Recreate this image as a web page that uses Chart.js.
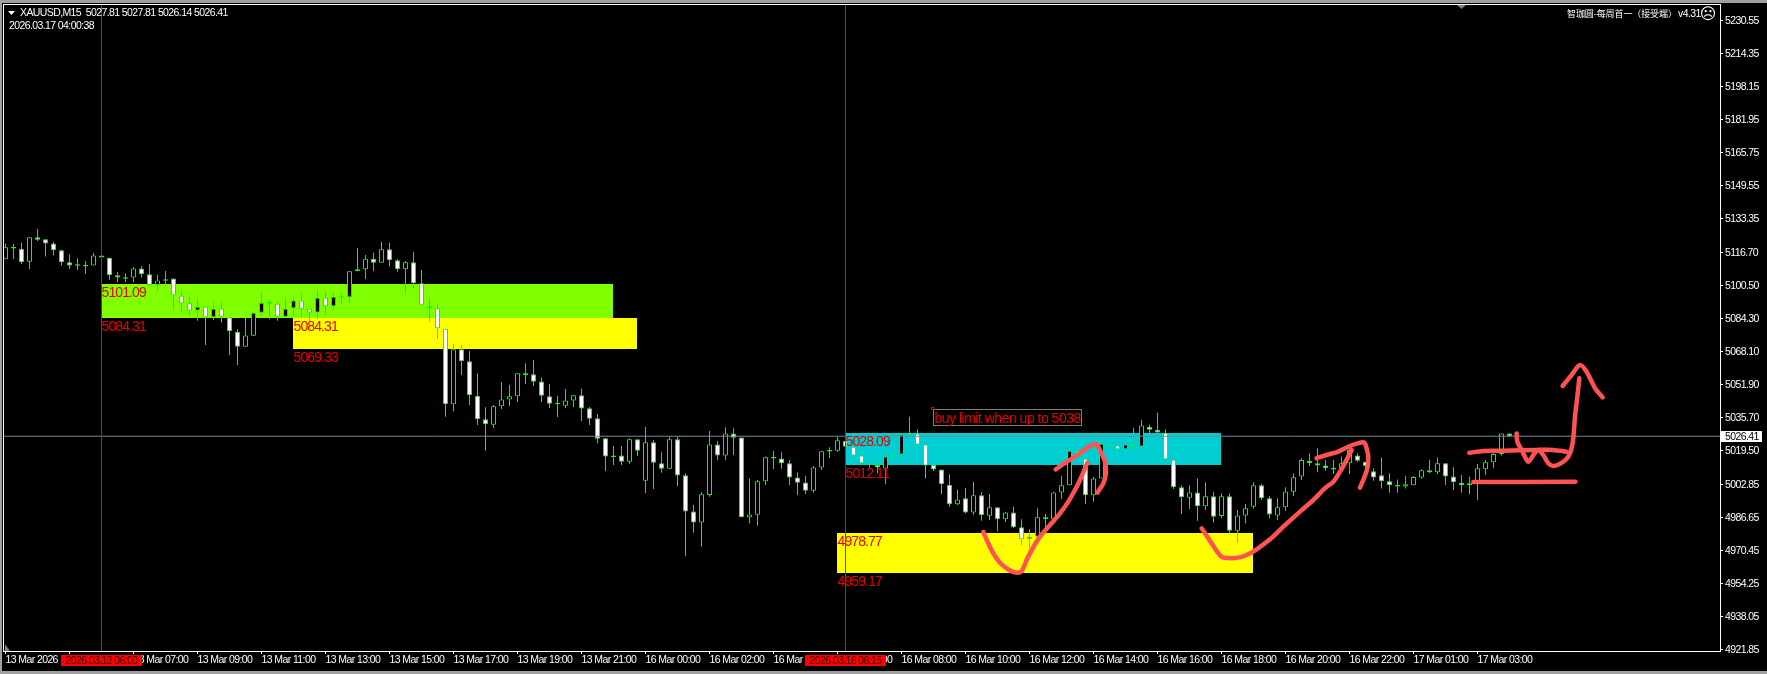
<!DOCTYPE html>
<html>
<head>
<meta charset="utf-8">
<title>XAUUSD,M15</title>
<script src="https://cdn.jsdelivr.net/npm/chart.js@4/dist/chart.umd.min.js"></script>
<style>
  html, body { margin: 0; padding: 0; background: #000; overflow: hidden; }
  canvas { display: block; }
</style>
</head>
<body>
<canvas id="grafico" width="1767" height="674"></canvas>
<script>
const valores_open = [
  5113.3, 5119.4, 5118.5, 5112.1, 5124.1, 5123.1, 5121.1, 5117.7, 5111.8, 5110.9,
  5110.6, 5110.3, 5115.2, 5114.1, 5105.4, 5104.5, 5104.4, 5108.8, 5105.9, 5100.7,
  5103.5, 5103.8, 5095.4, 5091.7, 5088.2, 5090.0, 5084.8, 5089.0, 5084.8, 5077.7,
  5070.4, 5075.8, 5087.1, 5092.3, 5091.5, 5085.1, 5089.2, 5093.0, 5089.0, 5087.2,
  5094.4, 5090.2, 5095.2, 5094.6, 5108.4, 5108.4, 5113.6, 5111.6, 5118.2, 5112.8,
  5108.4, 5111.8, 5101.5, 5090.2, 5089.2, 5079.2, 5042.1, 5069.1, 5063.2, 5046.3,
  5034.7, 5032.1, 5041.1, 5044.5, 5046.0, 5057.3, 5056.8, 5053.3, 5046.0, 5042.9,
  5041.4, 5043.9, 5046.5, 5040.1, 5035.2, 5025.4, 5017.0, 5017.0, 5013.9, 5024.9,
  5004.6, 5023.4, 5013.1, 5010.5, 5024.9, 5007.2, 4989.4, 4984.0, 4997.5, 5022.4,
  5016.9, 5027.8, 5025.8, 4986.6, 4987.9, 5004.3, 5016.3, 5015.5, 5013.1, 5006.2,
  5003.7, 4999.7, 5011.1, 5019.7, 5019.3, 5024.2, 5021.3, 5016.9, 5013.2, 5012.3,
  5010.6, 5017.5, 5017.5, 5027.9, 5027.7, 5022.3, 5012.3, 5010.1, 5002.6, 4993.0,
  4995.9, 4989.0, 4997.4, 4987.4, 4991.5, 4985.6, 4989.0, 4981.7, 4975.9, 4977.1,
  4986.6, 4985.6, 4998.8, 5002.3, 5019.3, 5015.4, 4997.4, 5005.6, 5022.7, 5021.8,
  5020.0, 5022.3, 5021.4, 5031.1, 5029.6, 5028.1, 5014.9, 5001.3, 4996.2, 4998.8,
  4992.0, 4996.9, 4987.2, 4996.9, 4980.0, 4987.5, 4991.8, 5002.3, 4995.9, 4987.5,
  4991.5, 4999.2, 5006.6, 5014.4, 5013.1, 5012.0, 5010.9, 5010.5, 5013.1, 5016.9,
  5013.9, 5009.2, 5007.2, 5004.3, 5002.5, 5001.7, 5002.3, 5006.1, 5009.7, 5008.7,
  5013.1, 5006.7, 5003.6, 5002.3, 5002.9, 5010.2, 5013.6, 5017.7, 5027.81,
];
const valores_close = [
  5119.2, 5118.6, 5111.8, 5124.1, 5122.9, 5121.1, 5117.7, 5111.8, 5110.3, 5110.1,
  5109.8, 5115.2, 5114.2, 5105.4, 5104.3, 5103.7, 5108.8, 5105.9, 5100.7, 5102.9,
  5102.7, 5095.6, 5091.7, 5088.2, 5090.0, 5084.8, 5089.0, 5085.1, 5077.9, 5070.4,
  5075.9, 5087.1, 5092.0, 5091.5, 5085.1, 5089.0, 5093.0, 5089.0, 5087.2, 5094.4,
  5090.2, 5094.9, 5094.4, 5107.4, 5107.4, 5113.6, 5111.6, 5118.2, 5112.8, 5108.4,
  5111.8, 5101.5, 5090.7, 5089.2, 5079.4, 5042.1, 5069.1, 5063.2, 5046.5, 5034.7,
  5032.3, 5041.1, 5044.5, 5046.0, 5057.3, 5056.3, 5053.2, 5046.3, 5042.4, 5042.1,
  5044.0, 5046.5, 5040.0, 5035.0, 5025.2, 5016.4, 5016.2, 5013.9, 5024.9, 5019.3,
  5023.4, 5013.4, 5010.5, 5024.9, 5007.1, 4989.4, 4984.0, 4997.9, 5022.4, 5016.9,
  5027.8, 5025.7, 4986.6, 4988.0, 5004.3, 5016.1, 5015.5, 5013.1, 5006.1, 5003.6,
  4999.7, 5011.1, 5019.0, 5018.9, 5024.4, 5021.3, 5017.0, 5013.1, 5012.4, 5011.1,
  5016.5, 5016.5, 5027.3, 5027.1, 5022.3, 5012.1, 5010.1, 5002.8, 4993.0, 4995.4,
  4989.0, 4997.4, 4987.7, 4991.5, 4985.6, 4989.0, 4981.7, 4975.8, 4977.1, 4986.6,
  4985.6, 4998.8, 5002.3, 5019.3, 5018.0, 4997.4, 5005.6, 5022.7, 5022.1, 5020.0,
  5022.3, 5021.4, 5031.7, 5029.6, 5028.3, 5015.1, 5001.3, 4996.4, 4998.8, 4992.0,
  4996.9, 4986.9, 4996.9, 4980.0, 4987.5, 4991.0, 5002.3, 4995.9, 4988.0, 4991.5,
  4999.3, 5006.3, 5014.8, 5013.1, 5012.1, 5010.7, 5010.1, 5013.1, 5019.7, 5014.4,
  5011.8, 5006.2, 5004.3, 5002.3, 5001.7, 5002.8, 5006.4, 5009.7, 5008.7, 5013.1,
  5006.7, 5003.8, 5002.3, 5003.3, 5010.7, 5013.6, 5017.7, 5027.8, 5026.41,
];
const valores_high = [
  5121.1, 5120.8, 5121.4, 5124.1, 5128.2, 5123.1, 5121.8, 5118.0, 5115.7, 5113.8,
  5112.4, 5116.4, 5115.2, 5114.1, 5107.0, 5106.4, 5109.5, 5110.0, 5110.8, 5105.6,
  5107.5, 5103.8, 5098.2, 5094.6, 5094.1, 5090.0, 5092.6, 5092.6, 5084.8, 5078.9,
  5084.8, 5087.6, 5097.1, 5093.6, 5092.5, 5094.3, 5094.1, 5096.6, 5089.0, 5098.2,
  5097.7, 5097.1, 5096.6, 5107.4, 5118.8, 5115.4, 5116.5, 5121.8, 5121.4, 5113.3,
  5112.4, 5116.9, 5108.0, 5094.1, 5091.7, 5079.2, 5071.7, 5071.1, 5068.3, 5057.3,
  5040.6, 5041.8, 5052.9, 5051.6, 5057.3, 5062.2, 5063.9, 5055.3, 5052.1, 5046.2,
  5049.6, 5046.5, 5049.9, 5040.8, 5037.3, 5025.4, 5021.6, 5021.6, 5025.4, 5024.9,
  5031.0, 5024.6, 5018.5, 5026.2, 5026.2, 5008.2, 4992.6, 4998.9, 5029.0, 5024.1,
  5030.8, 5030.3, 5025.8, 5005.7, 5004.9, 5016.4, 5019.2, 5018.5, 5014.7, 5008.7,
  5006.9, 5011.8, 5019.0, 5021.0, 5026.2, 5024.2, 5021.3, 5016.9, 5015.9, 5012.3,
  5017.2, 5020.5, 5027.3, 5036.0, 5029.8, 5022.3, 5012.3, 5010.1, 5007.8, 5000.3,
  5001.0, 5003.9, 4999.0, 4998.0, 4991.5, 4989.3, 4991.8, 4985.6, 4980.7, 4991.1,
  4988.2, 4999.2, 5006.9, 5022.1, 5019.3, 5015.4, 5006.5, 5024.5, 5024.1, 5021.8,
  5022.9, 5030.4, 5034.4, 5032.1, 5038.1, 5029.8, 5014.9, 5002.4, 5002.4, 5005.7,
  5003.8, 4999.0, 4998.4, 4998.4, 4990.2, 4993.1, 5003.8, 5002.9, 4997.0, 4995.9,
  5001.3, 5008.2, 5015.6, 5018.0, 5020.5, 5014.7, 5014.7, 5016.4, 5020.5, 5018.0,
  5013.9, 5010.7, 5016.0, 5008.2, 5005.2, 5006.9, 5006.9, 5010.2, 5014.7, 5016.0,
  5013.1, 5011.2, 5007.4, 5006.6, 5012.8, 5014.7, 5018.0, 5027.8, 5027.81,
];
const valores_low = [
  5113.3, 5113.4, 5111.0, 5108.5, 5122.3, 5114.6, 5115.1, 5110.2, 5108.5, 5108.0,
  5106.2, 5110.3, 5114.2, 5103.1, 5102.1, 5102.1, 5102.1, 5104.3, 5100.3, 5097.9,
  5100.5, 5088.4, 5087.6, 5085.4, 5083.1, 5071.2, 5083.5, 5082.2, 5066.3, 5061.4,
  5070.4, 5075.8, 5085.4, 5083.8, 5083.1, 5084.8, 5085.4, 5084.8, 5082.5, 5084.1,
  5085.9, 5088.4, 5091.3, 5092.0, 5107.4, 5103.6, 5107.5, 5111.6, 5109.7, 5107.2,
  5096.6, 5098.7, 5090.7, 5082.6, 5074.2, 5036.0, 5038.5, 5056.5, 5041.8, 5031.9,
  5019.3, 5030.5, 5039.8, 5041.3, 5043.2, 5052.1, 5051.1, 5043.2, 5040.3, 5035.9,
  5040.3, 5040.8, 5033.9, 5031.9, 5022.9, 5009.3, 5012.3, 5012.3, 5012.8, 5016.7,
  4998.5, 5000.5, 5008.5, 5010.5, 5002.0, 4967.6, 4979.0, 4972.2, 4996.7, 5014.7,
  5014.7, 5017.2, 4986.6, 4983.6, 4982.5, 5002.5, 5010.3, 5010.5, 5002.5, 4997.6,
  4998.0, 4998.7, 5009.8, 5015.7, 5018.8, 5021.3, 5014.7, 5013.1, 5011.1, 5008.2,
  5002.9, 5015.9, 5013.1, 5026.7, 5020.9, 5005.6, 5009.3, 4998.0, 4991.8, 4992.6,
  4988.5, 4987.9, 4984.9, 4985.3, 4979.7, 4984.3, 4981.3, 4973.0, 4971.3, 4976.3,
  4979.5, 4984.4, 4995.6, 5002.3, 5015.5, 4993.1, 4994.3, 5005.6, 5018.8, 5012.3,
  5013.9, 5018.0, 5018.0, 5022.9, 5027.8, 5015.1, 5000.5, 4988.2, 4990.7, 4984.9,
  4990.2, 4984.1, 4986.1, 4978.7, 4974.1, 4983.6, 4990.8, 4995.1, 4986.1, 4985.3,
  4989.8, 4997.1, 5004.9, 5011.8, 5008.9, 5009.5, 5007.9, 5009.9, 5007.9, 5013.9,
  5006.6, 5004.6, 5000.8, 4998.7, 4998.7, 5000.7, 5002.3, 5005.6, 5008.4, 5007.9,
  5002.5, 5000.0, 4998.7, 4998.1, 4995.1, 5007.4, 5010.8, 5016.9, 5026.14,
];

const precios_eje = [
  5230.55, 5214.35, 5198.15, 5181.95, 5165.75, 5149.55, 5133.35, 5116.7, 5100.5, 5084.3,
  5068.1, 5051.9, 5035.7, 5019.5, 5002.85, 4986.65, 4970.45, 4954.25, 4938.05, 4921.85,
];
const barras_eje = [
  0, 8, 16, 24, 32, 40, 48, 56, 64, 72, 80, 88, 96,
  104, 112, 120, 128, 136, 144, 152, 160, 168, 176, 184,
];
const etiquetas_eje = [
  "13 Mar 2026", "13 Mar 05:00", "13 Mar 07:00", "13 Mar 09:00", "13 Mar 11:00", "13 Mar 13:00",
  "13 Mar 15:00", "13 Mar 17:00", "13 Mar 19:00", "13 Mar 21:00", "16 Mar 00:00", "16 Mar 02:00",
  "16 Mar 04:00", "16 Mar 06:00", "16 Mar 08:00", "16 Mar 10:00", "16 Mar 12:00", "16 Mar 14:00",
  "16 Mar 16:00", "16 Mar 18:00", "16 Mar 20:00", "16 Mar 22:00", "17 Mar 01:00", "17 Mar 03:00",
];

const precio_actual = 5026.41;
const lineas_verticales = [12, 105];
const etiquetas_verticales = ["2026.03.13 06:00", "2026.03.16 06:15"];

// zonas: barra inicial, barra final, precio alto, precio bajo, color
const zonas = [
  [12, 76, 5101.09, 5084.31, "#7fff00"],
  [36, 79, 5084.31, 5069.33, "#ffff00"],
  [105, 152, 5028.09, 5012.11, "#00ced1"],
  [104, 156, 4978.77, 4959.17, "#ffff00"],
];

// trazos a mano: [barra, precio]
const trazo_a = [[122.23,4979.4],[122.85,4973.8],[123.48,4968.9],[124.31,4964.3],[125.35,4961.0],[126.39,4959.4],[127.02,4960.2],[127.64,4965.6],[128.27,4970.5],[129.31,4977.1],[130.56,4982.8],[131.81,4988.5],[132.85,4994.3],[133.69,5000.0],[134.31,5004.9],[134.94,5010.6],[135.23,5013.4]];
const trazo_b = [[131.27,5010.1],[132.23,5012.8],[133.48,5015.9],[134.73,5019.3],[135.77,5022.1],[136.39,5022.4],[136.89,5018.8],[137.44,5013.9],[137.56,5008.2],[137.23,5003.3],[136.48,4998.7]];
const trazo_c = [[149.52,4981.2],[150.14,4977.6],[150.98,4972.5],[152.02,4967.2],[152.85,4966.6],[154.1,4966.8],[155.14,4968.1],[156.39,4970.9],[158.06,4975.8],[159.73,4982.0],[161.81,4989.4],[163.48,4995.1],[164.94,5000.9],[165.98,5004.1],[166.81,5009.0],[167.64,5014.8],[168.27,5019.7]];
const trazo_d = [[163.89,5015.6],[165.14,5017.2],[166.6,5018.9],[168.06,5021.6],[169.1,5023.0],[169.85,5023.3],[170.14,5020.5],[170.35,5016.4],[170.23,5010.7],[169.81,5005.8],[169.31,5001.2]];
const trazo_e = [[182.98,5018.3],[184.73,5019.2],[187.23,5019.3],[191.39,5019.7],[193.48,5019.7],[195.14,5018.8]];
const trazo_f = [[183.48,5003.9],[196.23,5004.1]];
const trazo_g = [[188.89,5027.8],[188.98,5023.7],[189.52,5019.7],[190.35,5013.9],[190.98,5017.2],[191.6,5019.7],[192.23,5017.2],[192.85,5013.1],[193.48,5011.8],[194.31,5012.8],[195.35,5016.4],[195.89,5023.0],[196.19,5036.0],[196.48,5045.8],[196.73,5054.9]];
const trazo_h = [[194.64,5051.1],[195.77,5056.5],[196.81,5061.4],[197.64,5058.1],[198.69,5050.0],[199.64,5045.5]];
const trazos = [trazo_a, trazo_b, trazo_c, trazo_d, trazo_e, trazo_f, trazo_g, trazo_h];

// etiquetas de las zonas: barra, precio, texto
const textos_zona = [
  [12, 5101.09, "5101.09"],
  [12, 5084.31, "5084.31"],
  [36, 5084.31, "5084.31"],
  [36, 5069.33, "5069.33"],
  [105, 5028.09, "5028.09"],
  [105, 5012.11, "5012.11"],
  [104, 4978.77, "4978.77"],
  [104, 4959.17, "4959.17"],
];

const Y_MAX = 5238.145;
const Y_MIN = 4920.96;
const FUENTE = '"Liberation Sans", sans-serif';
const ESPACIO = -0.6;

function texto(ctx, s, x, y, font, color, espacio, align) {
  ctx.font = font;
  ctx.fillStyle = color;
  ctx.letterSpacing = (espacio || 0) + "px";
  ctx.textAlign = align || "left";
  ctx.textBaseline = "alphabetic";
  ctx.fillText(s, x, y);
  ctx.letterSpacing = "0px";
}

const fondo = {
  id: "fondo",
  beforeDraw(chart) {
    const { ctx, width, height } = chart;
    ctx.save();
    ctx.fillStyle = "#000";
    ctx.fillRect(0, 0, width, height);
    ctx.fillStyle = "#a0a0a0";
    ctx.fillRect(0, 0, width, 3);
    ctx.fillRect(0, 0, 2, height);
    ctx.fillRect(0, height - 3, width, 3);
    ctx.restore();
    // las etiquetas de los ejes heredan este espaciado
    ctx.letterSpacing = ESPACIO + "px";
  },
};

const capa_zonas = {
  id: "capa_zonas",
  beforeDatasetsDraw(chart) {
    const { ctx, scales } = chart;
    ctx.save();
    zonas.forEach(([b0, b1, alto, bajo, color]) => {
      const x0 = Math.floor(scales.x.getPixelForValue(b0));
      const x1 = Math.floor(scales.x.getPixelForValue(b1));
      const y0 = Math.round(scales.y.getPixelForValue(alto));
      const y1 = Math.round(scales.y.getPixelForValue(bajo));
      ctx.fillStyle = color;
      ctx.fillRect(x0, y0, x1 - x0, y1 - y0);
    });
    ctx.restore();
  },
};

const capa_textos = {
  id: "capa_textos",
  afterDraw(chart) {
    const { ctx, scales, chartArea } = chart;
    ctx.save();

    // marco del grafico
    ctx.strokeStyle = "#fff";
    ctx.lineWidth = 1;
    ctx.strokeRect(chartArea.left - 0.5, chartArea.top - 0.5,
      chartArea.right - chartArea.left + 1, chartArea.bottom - chartArea.top + 1);

    textos_zona.forEach(([barra, precio, s]) => {
      const x = scales.x.getPixelForValue(barra);
      const y = scales.y.getPixelForValue(precio);
      texto(ctx, s, x, y + 13, '14px "Liberation Sans"', "#e80000", -0.9);
    });

    // objeto de texto
    const bx = scales.x.getPixelForValue(116);
    const by = Math.round(scales.y.getPixelForValue(5039.9)) + 0.5;
    ctx.strokeStyle = "#808080";
    ctx.strokeRect(bx, by, 148, 16);
    ctx.strokeStyle = "#e80000";
    ctx.strokeRect(bx - 2, by - 2, 2, 2);
    texto(ctx, "buy limit when up to 5038", bx + 1, by + 13, '14px "Liberation Sans"', "#e80000", -0.5);

    // cabecera
    ctx.fillStyle = "#fff";
    ctx.beginPath();
    ctx.moveTo(8, 11);
    ctx.lineTo(15, 11);
    ctx.lineTo(11.5, 15);
    ctx.closePath();
    ctx.fill();
    texto(ctx, "XAUUSD,M15  5027.81 5027.81 5026.14 5026.41", 20, 16, "10.5px " + FUENTE, "#fff", ESPACIO);
    texto(ctx, "2026.03.17 04:00:38", 9, 29, "10.5px " + FUENTE, "#fff", ESPACIO);
    texto(ctx, "智珈圆-每周首一（接受端）", 1567, 17, '9px "Noto Sans CJK SC"', "#fff", -0.1);
    texto(ctx, "v4.31", 1678, 17, "10.5px " + FUENTE, "#fff", ESPACIO);
    texto(ctx, "☹", 1708, 19, '16px "DejaVu Sans"', "#fff", 0, "center");

    // marcadores grises
    ctx.fillStyle = "#708090";
    ctx.beginPath();
    ctx.moveTo(1457, 5);
    ctx.lineTo(1466, 5);
    ctx.lineTo(1461.5, 9);
    ctx.closePath();
    ctx.fill();
    ctx.beginPath();
    ctx.moveTo(5, 644);
    ctx.lineTo(10, 651);
    ctx.lineTo(5, 651);
    ctx.closePath();
    ctx.fill();

    // etiqueta del precio actual
    const py = Math.round(scales.y.getPixelForValue(precio_actual));
    ctx.fillStyle = "#fff";
    ctx.fillRect(chartArea.right + 1, py - 5, 41, 11);
    texto(ctx, precio_actual.toFixed(2), chartArea.right + 5, py + 4, "10.5px " + FUENTE, "#000", ESPACIO);

    // etiquetas rojas de tiempo
    lineas_verticales.forEach((barra, i) => {
      const x = Math.floor(scales.x.getPixelForValue(barra));
      ctx.fillStyle = "#ff0000";
      ctx.fillRect(x - 40, 655, 81, 11);
      texto(ctx, etiquetas_verticales[i], x + 0.5, 664, "10.5px " + FUENTE, "#300", ESPACIO, "center");
    });

    ctx.restore();
  },
};

const indices = valores_open.map((_, i) => i);

const datasets = [
  {
    type: "bar",
    data: indices.map((i) => ({ x: i, y: [valores_low[i], valores_high[i]] })),
    backgroundColor: "#00ff00",
    borderWidth: 0,
    barThickness: 1,
    grouped: false,
    inflateAmount: 0,
    order: 6,
  },
  {
    type: "bar",
    data: indices.map((i) => ({ x: i, y: [valores_open[i], valores_close[i]] })),
    backgroundColor: indices.map((i) => (valores_close[i] < valores_open[i] ? "#ffffff" : "#000000")),
    borderColor: "#00ff00",
    borderWidth: 1,
    borderSkipped: false,
    barThickness: 5,
    grouped: false,
    inflateAmount: 0,
    order: 5,
  },
  {
    type: "line",
    data: [{ x: -1, y: precio_actual }, { x: 220, y: precio_actual }],
    borderColor: "#778899",
    borderWidth: 1,
    pointRadius: 0,
    order: 4,
  },
];

lineas_verticales.forEach((barra) => {
  datasets.push({
    type: "line",
    data: [{ x: barra, y: Y_MIN }, { x: barra, y: Y_MAX }],
    borderColor: "#d81010",
    borderWidth: 1,
    pointRadius: 0,
    order: 3,
  });
});

trazos.forEach((trazo) => {
  datasets.push({
    type: "line",
    data: trazo.map(([x, y]) => ({ x, y })),
    borderColor: "#ff5252",
    borderWidth: 4.5,
    borderCapStyle: "round",
    borderJoinStyle: "round",
    tension: 0.3,
    pointRadius: 0,
    order: 1,
  });
});

new Chart(document.getElementById("grafico"), {
  data: { datasets },
  plugins: [fondo, capa_zonas, capa_textos],
  options: {
    responsive: false,
    animation: false,
    devicePixelRatio: 1,
    layout: { padding: { left: 4, top: 5, right: 0, bottom: 0 } },
    plugins: { legend: { display: false }, tooltip: { enabled: false } },
    scales: {
      x: {
        type: "linear",
        offset: false,
        min: -0.1875,
        max: 214.3125,
        afterFit(s) {
          s.height = 23;
          s.paddingLeft = 0;
          s.paddingRight = 0;
        },
        afterBuildTicks(s) { s.ticks = barras_eje.map((v) => ({ value: v })); },
        grid: { offset: false, drawOnChartArea: false, color: "#fff", tickLength: 3 },
        border: { display: false },
        ticks: {
          autoSkip: false,
          maxRotation: 0,
          align: "start",
          padding: 0,
          color: "#fff",
          font: { family: FUENTE, size: 10.5 },
          callback: (v, i) => etiquetas_eje[i],
        },
      },
      y: {
        type: "linear",
        position: "right",
        min: Y_MIN,
        max: Y_MAX,
        afterFit(s) {
          s.width = 47;
          s.paddingTop = 0;
          s.paddingBottom = 0;
        },
        afterBuildTicks(s) { s.ticks = precios_eje.map((v) => ({ value: v })); },
        grid: { drawOnChartArea: false, color: "#fff", tickLength: 3 },
        border: { display: false },
        ticks: {
          autoSkip: false,
          padding: 2,
          labelOffset: 1,
          color: "#fff",
          font: { family: FUENTE, size: 10.5 },
          callback: (v) => v.toFixed(2),
        },
      },
    },
  },
});
</script>
</body>
</html>
